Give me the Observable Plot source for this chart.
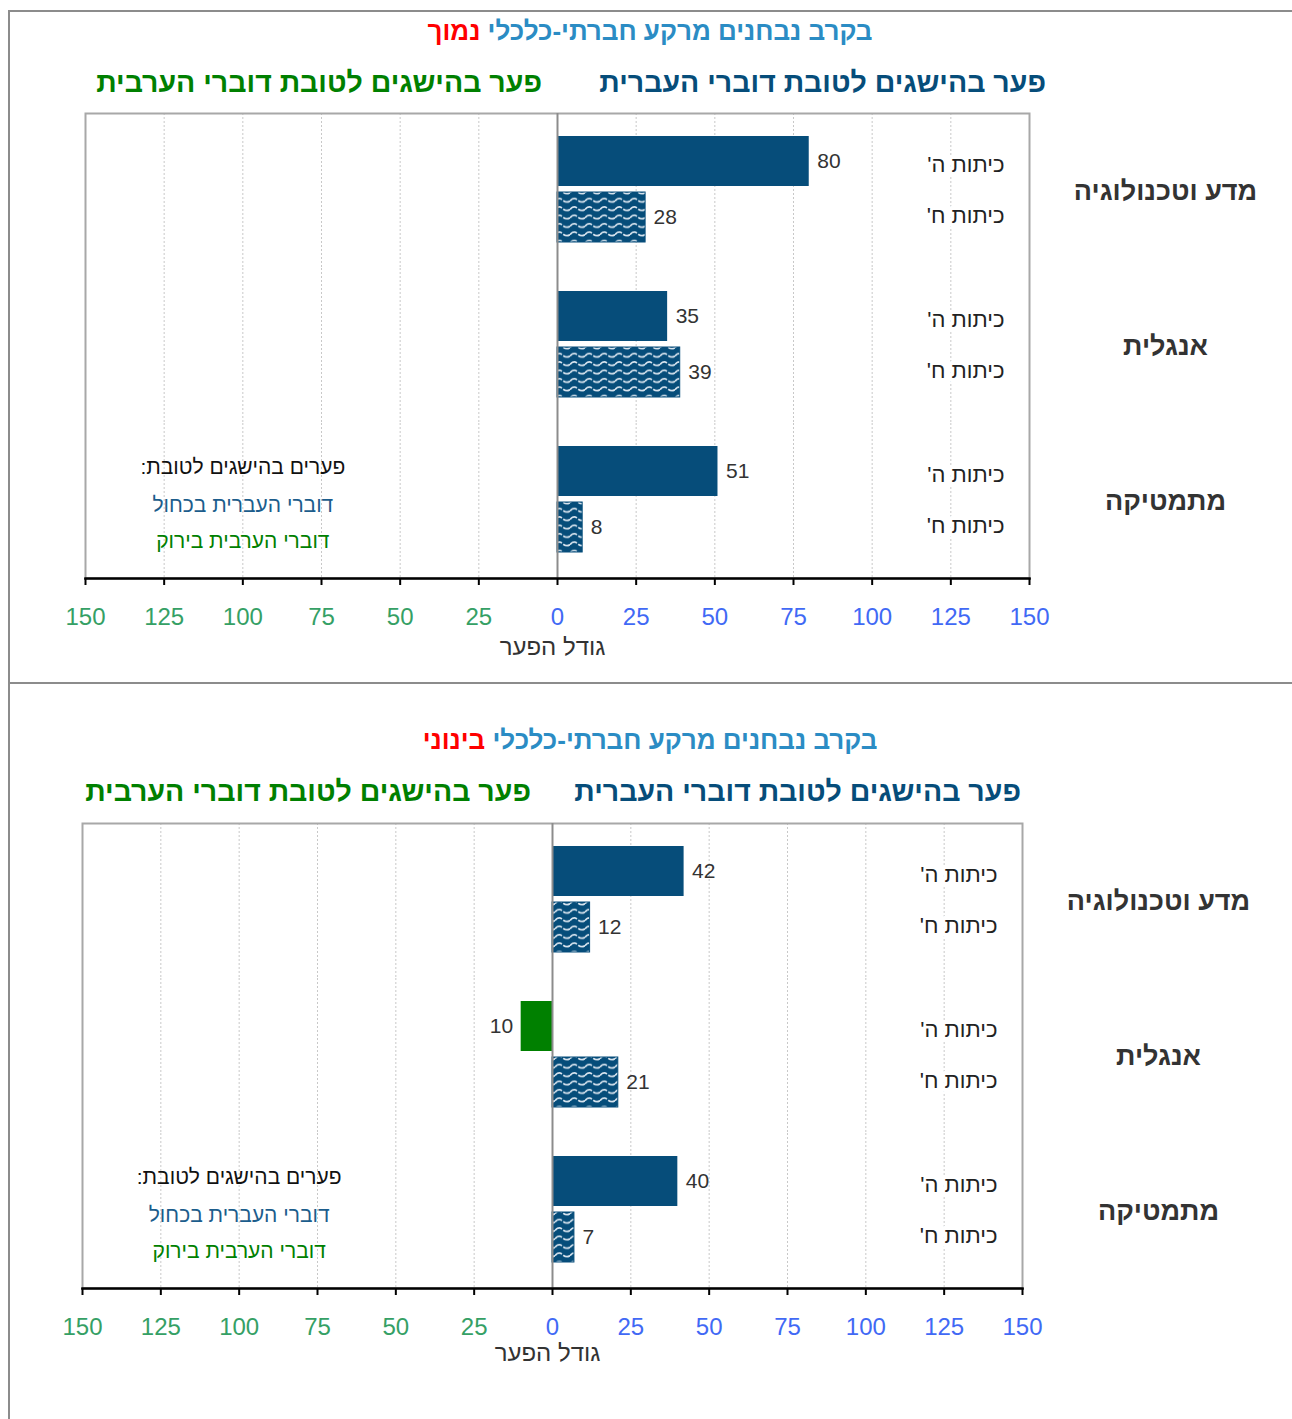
<!DOCTYPE html>
<html lang="he">
<head>
<meta charset="utf-8">
<script src="https://cdn.jsdelivr.net/npm/d3@7"></script>
<script src="https://cdn.jsdelivr.net/npm/@observablehq/plot@0.6"></script>
<style>
  body { margin: 0; background: #fff; }
  #page { position: relative; width: 1292px; height: 1419px; overflow: hidden; font-family: "Liberation Sans", Arial, sans-serif; }
  .hline { position: absolute; left: 8px; right: 0; height: 0; border-top: 2px solid #8c8c8c; }
  .vline { position: absolute; left: 8px; top: 10px; bottom: 0; width: 0; border-left: 2px solid #8c8c8c; }
  .title { position: absolute; left: 0; width: 1300px; text-align: center; direction: rtl; white-space: nowrap;
           font-family: "Liberation Sans", Arial, sans-serif; font-weight: bold; font-size: 26px; line-height: 26px; color: #2b8cc4; }
  .title .red { color: #ff0000; }
  .sub { position: absolute; direction: rtl; white-space: nowrap;
         font-family: "Liberation Sans", Arial, sans-serif; font-weight: bold; font-size: 28.5px; line-height: 28px; }
  .chart { position: absolute; left: 0; }
  .chart svg text { direction: rtl; }
</style>
</head>
<body>
<div id="page"></div>
<script>
// ---------- data ----------
const subjects = ["מדע וטכנולוגיה", "אנגלית", "מתמטיקה"];
const grades = ["ה", "ח"];
// low socio-economic background
const lowGrade5 = [80, 35, 51];
const lowGrade8 = [28, 39, 8];
// medium socio-economic background
const midGrade5 = [42, -10, 40];
const midGrade8 = [12, 21, 7];
const negTicks = [-150, -125, -100, -75, -50, -25];
const posTicks = [0, 25, 50, 75, 100, 125, 150];
const gridTicks = [-125, -100, -75, -50, -25, 25, 50, 75, 100, 125];
const titleMain = "בקרב נבחנים מרקע חברתי-כלכלי";
const titleLow = "נמוך";
const titleMid = "בינוני";
const subHebrew = "פער בהישגים לטובת דוברי העברית";
const subArabic = "פער בהישגים לטובת דוברי הערבית";
const legendLines = ["פערים בהישגים לטובת:", "דוברי העברית בכחול", "דוברי הערבית בירוק"];
const axisLabel = "גודל הפער";

// ---------- colours ----------
const darkBlue = "#064d7a";
const green = "#008000";
const tickGreen = "#35a065";
const tickBlue = "#4169f5";
const textGray = "#333333";

const page = document.getElementById("page");

function addDiv(cls, style, html) {
  const d = document.createElement("div");
  d.className = cls;
  Object.assign(d.style, style);
  d.innerHTML = html;
  page.appendChild(d);
  return d;
}

function makeChart(g5, g8, m, patternId) {
  const rows = subjects.flatMap((s, i) => [
    {subject: s, grade: grades[0], value: g5[i]},
    {subject: s, grade: grades[1], value: g8[i]}
  ]);
  const gradeLabel = (grade, dy) => Plot.text(rows, {filter: d => d.grade === grade, fy: "subject", y: "grade",
    text: d => `כיתות ${d.grade}'`, frameAnchor: "right", dx: -25, dy,
    textAnchor: "start", fontSize: 22, fill: "#222", stroke: "white", strokeWidth: 8});
  const legendLine = (i, dy, fill) => Plot.text([legendLines[i]], {fy: () => subjects[2], x: () => -100,
    frameAnchor: "top", dy, text: d => d, textAnchor: "middle", fontSize: 21, fill});
  const svg = Plot.plot({
    width: 1292,
    height: 580,
    marginTop: m.top,
    marginBottom: 97,
    marginLeft: m.left,
    marginRight: m.right,
    style: {background: "transparent", fontFamily: "'Liberation Sans', Arial, sans-serif", overflow: "visible"},
    x: {domain: [-150, 150]},
    y: {domain: grades, paddingInner: 0.116, paddingOuter: 0.44, align: 0.46, axis: null},
    fy: {domain: subjects, padding: 0, axis: null},
    marks: [
      Plot.ruleX(gridTicks, {stroke: "#c8c8c8", strokeWidth: 1, strokeDasharray: "2,2"}),
      Plot.frame({facet: "super", stroke: "#a8a8a8", strokeWidth: 2}),
      // grade labels (with white halo)
      gradeLabel(grades[0], 3),
      gradeLabel(grades[1], -2),
      // subject labels
      Plot.text(subjects, {fy: d => d, text: d => d, frameAnchor: "right", dx: 136, textAnchor: "middle",
        fontSize: 27, fontWeight: "bold", fill: textGray}),
      // bars
      Plot.barX(rows, {filter: d => d.value >= 0 && d.grade === grades[0], fy: "subject", y: "grade", x: "value", fill: darkBlue}),
      Plot.barX(rows, {filter: d => d.value < 0, fy: "subject", y: "grade", x: "value", fill: green}),
      Plot.barX(rows, {filter: d => d.value >= 0 && d.grade === grades[1], fy: "subject", y: "grade", x: "value",
        fill: `url(#${patternId})`, stroke: darkBlue, strokeWidth: 1}),
      Plot.ruleX([0], {stroke: "#8c8c8c", strokeWidth: 2}),
      // value labels
      Plot.text(rows, {filter: d => d.value >= 0, fy: "subject", y: "grade", x: "value", text: d => Math.abs(d.value),
        dx: 8, textAnchor: "end", fontSize: 21, fill: textGray}),
      Plot.text(rows, {filter: d => d.value < 0, fy: "subject", y: "grade", x: "value", text: d => Math.abs(d.value),
        dx: -8, textAnchor: "start", fontSize: 21, fill: textGray}),
      // legend inside plot (math facet)
      legendLine(0, 36, "#111"),
      legendLine(1, 74, "#1c5d8c"),
      legendLine(2, 110, green),
      // axis
      Plot.frame({facet: "super", anchor: "bottom", stroke: "#000", strokeWidth: 2.5}),
      Plot.axisX(negTicks, {tickFormat: d => Math.abs(d), fill: tickGreen, stroke: "#000", strokeWidth: 2, tickSize: 7,
        tickPadding: 22, fontSize: 24, label: null}),
      Plot.axisX(posTicks, {tickFormat: d => Math.abs(d), fill: tickBlue, stroke: "#000", strokeWidth: 2, tickSize: 7,
        tickPadding: 22, fontSize: 24, label: null}),
      Plot.text([axisLabel], {facet: "super", frameAnchor: "bottom", dy: m.labelDy, dx: -5, text: d => d,
        textAnchor: "middle", fontSize: 24, fill: textGray})
    ]
  });
  // pattern definition for grade-8 bars
  const ns = "http://www.w3.org/2000/svg";
  const defs = document.createElementNS(ns, "defs");
  defs.innerHTML = `<pattern id="${patternId}" width="15" height="8.4" patternUnits="userSpaceOnUse">
      <rect width="15" height="8.4" fill="${darkBlue}"/>
      <path d="M0,5.2 Q3.75,0.8 7.5,4.2 T15,5.2" fill="none" stroke="#dbe6f0" stroke-width="1.7" stroke-dasharray="8,1.5"/>
    </pattern>`;
  svg.insertBefore(defs, svg.firstChild);
  return svg;
}

function panel(cfg) {
  addDiv("title", {top: cfg.titleTop + "px"}, `${titleMain} <span class="red">${cfg.level}</span>`);
  addDiv("sub", {top: cfg.subTop + "px", right: cfg.subHebRight + "px", color: darkBlue}, subHebrew);
  addDiv("sub", {top: cfg.subTop + "px", right: cfg.subArbRight + "px", color: green}, subArabic);
  const holder = addDiv("chart", {top: cfg.svgTop + "px"}, "");
  holder.appendChild(makeChart(cfg.g5, cfg.g8, cfg.margins, cfg.patternId));
}

// frame lines
addDiv("hline", {top: "10px"}, "");
addDiv("hline", {top: "682px"}, "");
addDiv("vline", {}, "");

panel({level: titleLow, g5: lowGrade5, g8: lowGrade8, titleTop: 18, subTop: 68, subHebRight: 246, subArbRight: 750,
  svgTop: 95, margins: {top: 18, left: 85, right: 263, labelDy: 76}, patternId: "wave1"});
panel({level: titleMid, g5: midGrade5, g8: midGrade8, titleTop: 727, subTop: 777, subHebRight: 271, subArbRight: 761,
  svgTop: 805, margins: {top: 17, left: 82, right: 270, labelDy: 72}, patternId: "wave2"});
</script>
</body>
</html>
